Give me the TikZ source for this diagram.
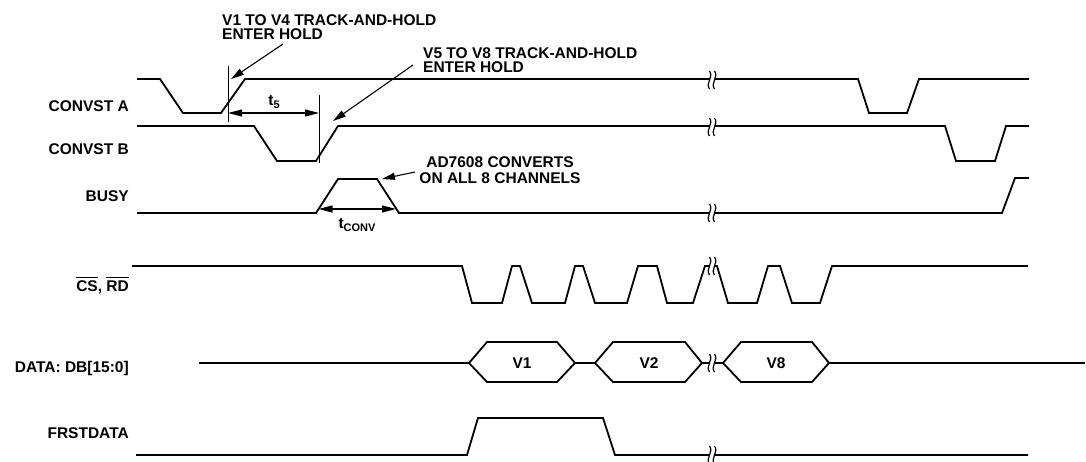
\documentclass[tikz,border=0pt]{standalone}
\usepackage{fontspec}
\setmainfont{Liberation Sans}
\usetikzlibrary{arrows.meta}
\newcommand\myovl[1]{\leavevmode\setbox0\hbox{#1}\rlap{\rule[\dimexpr\ht0+2pt\relax]{\wd0}{0.9pt}}\box0}
\begin{document}
\begin{tikzpicture}[x=1pt,y=-1pt,
  sig/.style={line width=1.8pt, line join=miter},
  marker/.style={line width=0.8pt},
  dimarrow/.style={line width=1.1pt, {Triangle[length=14pt,width=7pt]}-{Triangle[length=14pt,width=7pt]}},
  callout/.style={line width=1.1pt, -{Triangle[length=13pt,width=7pt]}},
  lbl/.style={font=\fontsize{15.5}{14}\selectfont\bfseries, inner sep=0pt, anchor=base east},
  note/.style={font=\fontsize{15.5}{14}\selectfont\bfseries, inner sep=0pt, align=left, anchor=north west},
  hextxt/.style={font=\fontsize{15.5}{14}\selectfont\bfseries, inner sep=0pt},
  brk/.pic={
    \fill[white] (-2.5,-9) .. controls (2,-3) and (-7,3) .. (-2.5,9) -- (2.5,9) .. controls (-2,3) and (7,-3) .. (2.5,-9) -- cycle;
    \draw[line width=1.2pt] (-2.5,-9) .. controls (2,-3) and (-7,3) .. (-2.5,9);
    \draw[line width=1.2pt] (2.5,-9) .. controls (7,-3) and (-2,3) .. (2.5,9);
  }
]
\useasboundingbox (0,0) rectangle (1086,462);

% signal labels
\node[lbl] (lA) at (129,112) {CONVST A};
\node[lbl] (lB) at (129,155) {CONVST B};
\node[lbl] (lBusy) at (129,202) {BUSY};
\node[lbl] (lCS) at (129,291) {\myovl{CS}, \myovl{RD}};
\node[lbl] (lData) at (129,372) {DATA: DB[15:0]};
\node[lbl] (lFrst) at (129,438) {FRSTDATA};

% CONVST A
\draw[sig] (137,79) -- (160,79) -- (183,113) -- (221,113) -- (245,79) -- (858,79) -- (869,113) -- (907,113) -- (919,79) -- (1029,79);
% CONVST B
\draw[sig] (137,126) -- (254,126) -- (277,161) -- (316,161) -- (338,126) -- (945,126) -- (956,161) -- (995,161) -- (1006,126) -- (1029,126);
% BUSY
\draw[sig] (137,213) -- (316,213) -- (338,179) -- (377,179) -- (399,213) -- (1002,213) -- (1015,178) -- (1029,178);
% CS, RD
\draw[sig] (132,266) -- (462,266) -- (472,303) -- (502,303) -- (512,266) -- (520,266) -- (532,303) -- (565,303) -- (575,266) -- (583,266) -- (595,303) -- (627,303) -- (638,266) -- (657,266) -- (667,303) -- (693,303) -- (705,266) -- (717,266) -- (728,303) -- (757,303) -- (768,266) -- (780,266) -- (792,303) -- (820,303) -- (832,266) -- (1028,266);
% DATA
\draw[sig] (199,363) -- (469,363);
\draw[sig] (469,363) -- (487,342) -- (557,342) -- (575,363) -- (557,382) -- (487,382) -- cycle;
\draw[sig] (575,363) -- (595,363);
\draw[sig] (595,363) -- (613,342) -- (685,342) -- (702,363) -- (685,382) -- (613,382) -- cycle;
\draw[sig] (702,363) -- (723,363);
\draw[sig] (723,363) -- (741,342) -- (812,342) -- (829,363) -- (812,382) -- (741,382) -- cycle;
\draw[sig] (829,363) -- (1085,363);
\node[hextxt] (v1) at (522,363) {V1};
\node[hextxt] (v2) at (649,363) {V2};
\node[hextxt] (v8) at (776,363) {V8};
% FRSTDATA
\draw[sig] (136,455) -- (467,455) -- (478,418) -- (603,418) -- (615,455) -- (1028,455);

% break marks
\foreach \yy in {80,127,213,266,363,455} \pic at (712,\yy) {brk};

% timing markers
\draw[marker] (228,66) -- (228,122);
\draw[marker] (319,95) -- (319,163);
\coordinate (t5a) at (228,113);
\coordinate (t5b) at (319,113);
\draw[dimarrow] (t5a) -- (t5b);
\node[hextxt] (t5) at (274,102) {t\raisebox{-3pt}{\fontsize{11}{11}\selectfont 5}};
\coordinate (tca) at (318.5,209);
\coordinate (tcb) at (396,209);
\draw[dimarrow] (tca) -- (tcb);
\node[hextxt] (tconv) at (357,225) {t\raisebox{-3pt}{\fontsize{11}{11}\selectfont CONV}};

% annotations
\node[note] (n1) at (222,14) {V1 TO V4 TRACK-AND-HOLD\\ENTER HOLD};
\node[note] (n2) at (423,47) {V5 TO V8 TRACK-AND-HOLD\\ENTER HOLD};
\node[note, align=center, anchor=north, font=\fontsize{15.5}{16}\selectfont\bfseries] (n3) at (500,156) {AD7608 CONVERTS\\ON ALL 8 CHANNELS};
\coordinate (a1s) at (283,44);
\coordinate (a1e) at (231,79);
\draw[callout] (a1s) -- (a1e);
\coordinate (a2s) at (413,65);
\coordinate (a2e) at (333,121);
\draw[callout] (a2s) -- (a2e);
\coordinate (a3s) at (415,172);
\coordinate (a3e) at (382,179);
\draw[callout] (a3s) -- (a3e);
\end{tikzpicture}
\end{document}
